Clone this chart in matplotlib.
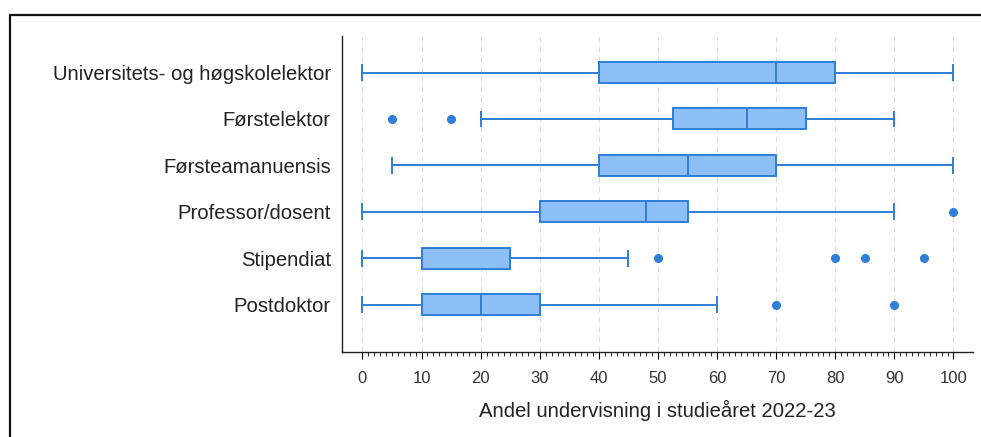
import matplotlib
matplotlib.use("Agg")
import matplotlib.pyplot as plt
from matplotlib.patches import Rectangle
from matplotlib.ticker import MultipleLocator, FixedLocator

# Stillingskategorier (top to bottom)
categories = [
    "Universitets- og høgskolelektor",
    "Førstelektor",
    "Førsteamanuensis",
    "Professor/dosent",
    "Stipendiat",
    "Postdoktor",
]
whislo = [0, 20, 5, 0, 0, 0]
q1 = [40, 52.5, 40, 30, 10, 10]
med = [70, 65, 55, 48, 25, 20]
q3 = [80, 75, 70, 55, 25, 30]
whishi = [100, 90, 100, 90, 45, 60]
fliers = [[], [5, 15], [], [100], [50, 80, 85, 95], [70, 90]]

xlabel = "Andel undervisning i studieåret 2022-23"

face = "#8ec0f8"
edge = "#2f7ed8"

plt.rcParams["font.family"] = ["Liberation Sans", "DejaVu Sans"]

fig = plt.figure(figsize=(9.81, 4.37), dpi=100)
ax = fig.add_axes([0.3486, 0.1945, 0.6432, 0.722])

stats = []
for i, lab in enumerate(categories):
    stats.append(dict(label=lab, whislo=whislo[i], q1=q1[i], med=med[i],
                      q3=q3[i], whishi=whishi[i], fliers=fliers[i]))

ax.bxp(stats, positions=range(len(categories)), vert=False, widths=0.45,
       capwidths=0.32, patch_artist=True, manage_ticks=False,
       boxprops=dict(facecolor=face, edgecolor=edge, linewidth=1.4),
       medianprops=dict(color=edge, linewidth=1.4),
       whiskerprops=dict(color=edge, linewidth=1.4),
       capprops=dict(color=edge, linewidth=1.4),
       flierprops=dict(marker="o", markerfacecolor=edge, markeredgecolor=edge,
                       markersize=5.5))

ax.set_yticks(range(len(categories)))
ax.set_yticklabels(categories, fontsize=14.6, color="#222222")
ax.set_ylim(6.02, -0.776)
ax.set_xlim(-3.47, 103.3)
ax.xaxis.set_major_locator(MultipleLocator(10))
ax.xaxis.set_minor_locator(FixedLocator(range(0, 101)))
ax.tick_params(axis="y", length=0, pad=8)
ax.tick_params(axis="x", which="major", length=5, width=0.8, labelsize=12,
               labelcolor="#333333", pad=9)
ax.tick_params(axis="x", which="minor", length=3, width=0.6)
ax.set_xlabel(xlabel, fontsize=14.6, color="#222222", labelpad=10)

ax.grid(axis="x", which="major", linestyle=(0, (5, 4)), color="#dddddd",
        linewidth=0.8)
ax.set_axisbelow(True)
for s in ["top", "right"]:
    ax.spines[s].set_visible(False)
for s in ["left", "bottom"]:
    ax.spines[s].set_linewidth(1.0)
    ax.spines[s].set_color("#222222")

# frame around the figure (only left and top edges visible)
fig.patches.append(Rectangle((10 / 981, -0.2), 1.2, 1.2 - 15 / 437,
                             transform=fig.transFigure, fill=False,
                             edgecolor="#111111", linewidth=1.6))

fig.savefig("out.png", dpi=100)
